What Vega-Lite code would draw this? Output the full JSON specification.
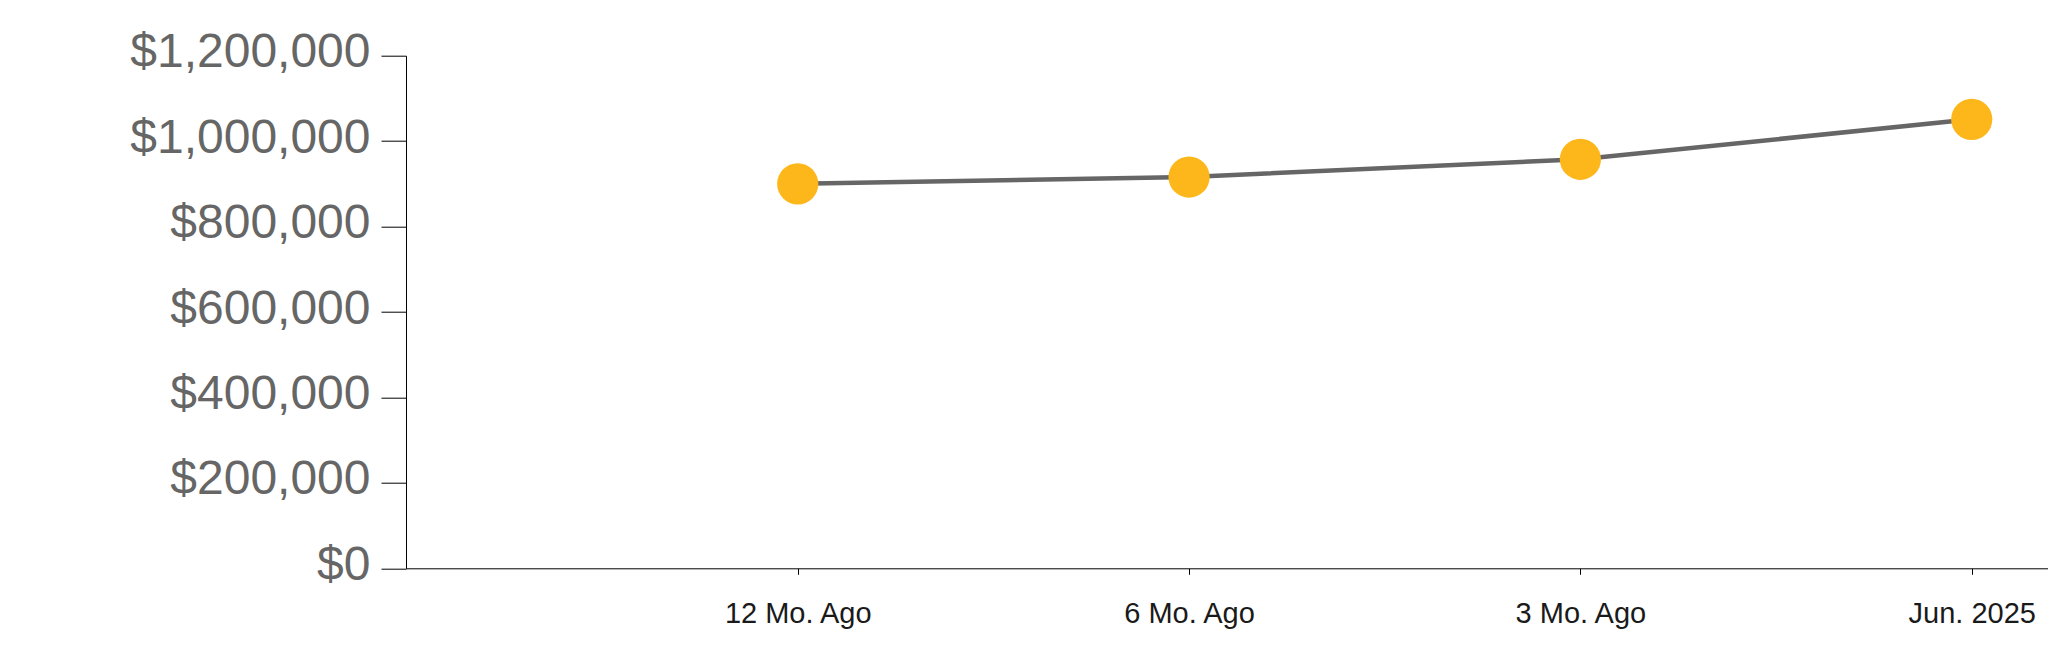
{
  "$schema": "https://vega.github.io/schema/vega-lite/v6.json",
  "autosize": "none",
  "width": 1642,
  "height": 512.6,
  "padding": {"left": 406, "top": 55.7, "right": 0, "bottom": 94.7},
  "background": "white",
  "config": {"view": {"stroke": null}},
  "data": {
    "values": [
      {"period": "12 Mo. Ago", "value": 900000},
      {"period": "6 Mo. Ago", "value": 916000},
      {"period": "3 Mo. Ago", "value": 957500},
      {"period": "Jun. 2025", "value": 1051000}
    ]
  },
  "encoding": {
    "x": {
      "field": "period",
      "type": "ordinal",
      "sort": null,
      "scale": {"type": "point", "padding": 0.598, "align": 0.837},
      "axis": {
        "title": null,
        "labelAngle": 0,
        "labelFont": "Liberation Sans",
        "labelFontSize": 29,
        "labelColor": "#1a1a1a",
        "labelPadding": 25,
        "labelLimit": 0,
        "tickSize": 6,
        "tickColor": "#000000",
        "domainColor": "#000000",
        "grid": false
      }
    },
    "y": {
      "field": "value",
      "type": "quantitative",
      "scale": {"domain": [0, 1200000], "nice": false},
      "axis": {
        "title": null,
        "values": [0, 200000, 400000, 600000, 800000, 1000000, 1200000],
        "format": "$,.0f",
        "labelFont": "Liberation Sans",
        "labelFontSize": 48,
        "labelColor": "#666666",
        "labelPadding": 11,
        "labelOffset": -3,
        "labelLimit": 0,
        "tickSize": 25,
        "tickColor": "#000000",
        "domainColor": "#000000",
        "grid": false
      }
    }
  },
  "layer": [
    {"mark": {"type": "line", "color": "#666666", "strokeWidth": 4.5}},
    {"mark": {"type": "point", "filled": true, "opacity": 1, "color": "#FDB71A", "size": 1700}}
  ]
}
